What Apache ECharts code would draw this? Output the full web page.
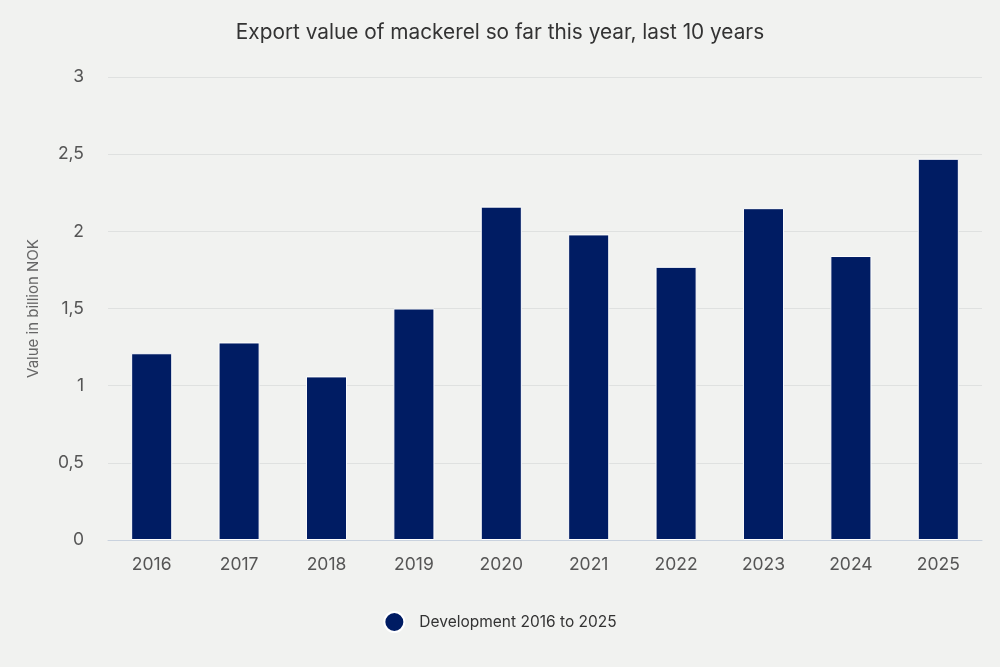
<!DOCTYPE html>
<html>
<head>
<meta charset="utf-8">
<script src="https://cdn.jsdelivr.net/npm/echarts@6/dist/echarts.min.js"></script>
<style>
    html, body {margin: 0; padding: 0; background: #f1f2f0;}
    #main {width: 1000px; height: 667px;}
</style>
</head>
<body>
<div id="main"></div>
<script>
//categories and values
var years = ['2016', '2017', '2018', '2019', '2020', '2021', '2022', '2023', '2024', '2025'];
var exportValues = [1.21, 1.28, 1.06, 1.5, 2.16, 1.98, 1.77, 2.15, 1.84, 2.47];
var seriesName = 'Development 2016 to 2025';

var chart = echarts.init(document.getElementById('main'));
var option = {
    backgroundColor: '#f1f2f0',
    title: {
        text: 'Export value of mackerel so far this year, last 10 years',
        left: 'center',
        top: 17,
        textStyle: {fontFamily: 'Inter', fontSize: 20.8, fontWeight: 'normal', color: '#333333'}
    },
    legend: {
        data: [seriesName],
        bottom: 29,
        left: 'center',
        icon: 'circle',
        itemWidth: 20,
        itemHeight: 20,
        itemGap: 10,
        textStyle: {fontFamily: 'Inter', fontSize: 15.5, color: '#333333', padding: [0, 0, 0, 10]}
    },
    grid: {left: 108, right: 18, top: 77, bottom: 127},
    xAxis: {
        type: 'category',
        data: years,
        axisTick: {show: false},
        axisLine: {lineStyle: {color: '#c9d2de', width: 1}},
        axisLabel: {fontFamily: 'Inter', fontSize: 17.5, color: '#555555', margin: 16}
    },
    yAxis: {
        type: 'value',
        min: 0,
        max: 3,
        interval: 0.5,
        name: 'Value in billion NOK',
        nameLocation: 'middle',
        nameGap: 67,
        nameTextStyle: {fontFamily: 'Inter', fontSize: 15, color: '#666666'},
        axisLabel: {
            fontFamily: 'Inter', fontSize: 17.5, color: '#555555', margin: 24,
            formatter: function (v) { return String(v).replace('.', ','); }
        },
        splitLine: {lineStyle: {color: '#dfe1e0', width: 1}}
    },
    series: [{
        name: seriesName,
        type: 'bar',
        data: exportValues,
        barWidth: '47%',
        itemStyle: {color: '#001c63', borderColor: '#ffffff', borderWidth: 1}
    }]
};
chart.setOption(option);
</script>
</body>
</html>
